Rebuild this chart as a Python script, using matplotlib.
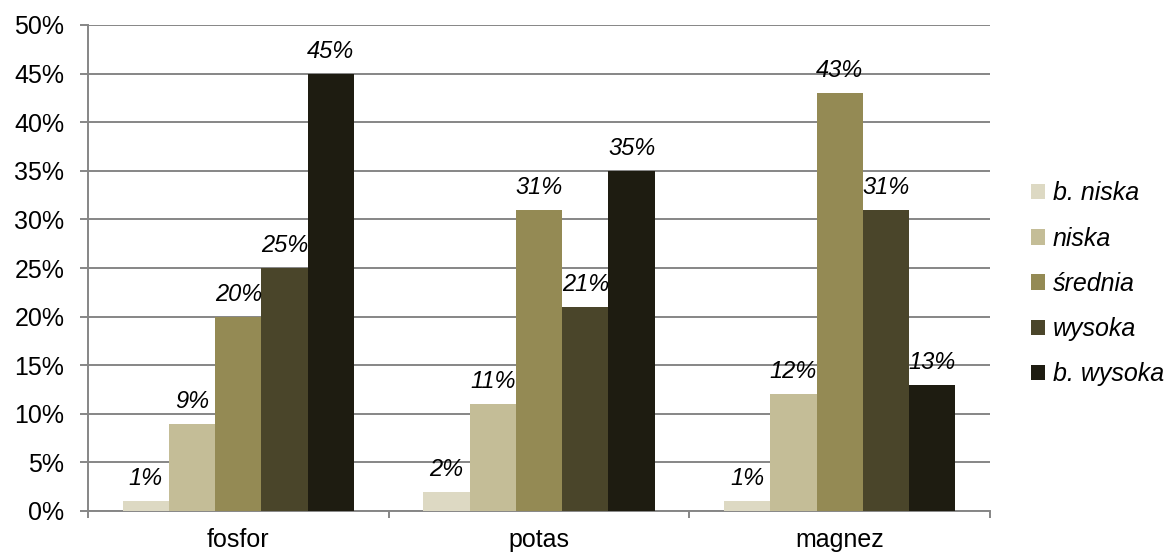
import matplotlib
matplotlib.use("Agg")
import matplotlib.pyplot as plt
from matplotlib.ticker import FixedLocator, PercentFormatter
from matplotlib.patches import Patch
import numpy as np

categories = ["fosfor", "potas", "magnez"]
series_names = ["b. niska", "niska", "średnia", "wysoka", "b. wysoka"]
b_niska = [1, 2, 1]
niska = [9, 11, 12]
srednia = [20, 31, 43]
wysoka = [25, 21, 31]
b_wysoka = [45, 35, 13]
series_values = [b_niska, niska, srednia, wysoka, b_wysoka]
colors = ["#DDD9C3", "#C4BD97", "#948A54", "#4A452A", "#1E1C11"]

plt.rcParams["font.family"] = ["Liberation Sans", "DejaVu Sans"]

fig = plt.figure(figsize=(11.71, 5.53), dpi=100)
ax = fig.add_axes([88 / 1171, 1 - 511 / 553, (990 - 88) / 1171, (511 - 25) / 553])

x = np.arange(len(categories))
w = 0.154
grid_c = "#868686"

for i, (vals, col) in enumerate(zip(series_values, colors)):
    pos = x + (i - 2) * w
    ax.bar(pos, vals, width=w, color=col, zorder=3, label=series_names[i])
    for p, v in zip(pos, vals):
        ax.annotate(f"{v}%", (p, v), xytext=(0, 11.5), textcoords="offset points",
                    ha="center", va="baseline", fontsize=17, style="italic",
                    color="black", zorder=4)

ax.set_xlim(-0.5, 2.5)
ax.set_ylim(0, 50)
ax.yaxis.set_major_locator(FixedLocator(np.arange(0, 51, 5)))
ax.yaxis.set_major_formatter(PercentFormatter(decimals=0))
ax.grid(axis="y", color=grid_c, linewidth=1.4, zorder=0)

ax.set_xticks(x)
ax.set_xticklabels(categories)
ax.set_xticks([-0.5, 0.5, 1.5, 2.5], minor=True)
ax.tick_params(axis="x", which="major", length=0, pad=12, labelsize=18)
ax.tick_params(axis="x", which="minor", length=5, width=1.4, color=grid_c, direction="out")
ax.tick_params(axis="y", length=6, width=1.4, color=grid_c, labelsize=18, pad=11)

for s in ["top", "right"]:
    ax.spines[s].set_visible(False)
for s in ["left", "bottom"]:
    ax.spines[s].set_color(grid_c)
    ax.spines[s].set_linewidth(1.4)

handles = [Patch(facecolor=c) for c in colors]
leg = fig.legend(handles, series_names, loc="center left",
                 bbox_to_anchor=(1031 / 1171, 1 - 284 / 553), frameon=False,
                 borderpad=0, borderaxespad=0,
                 prop={"size": 18, "style": "italic"}, handlelength=0.57,
                 handleheight=0.57, handletextpad=0.3, labelspacing=0.85)

fig.savefig("out.png", dpi=100, facecolor="white")
